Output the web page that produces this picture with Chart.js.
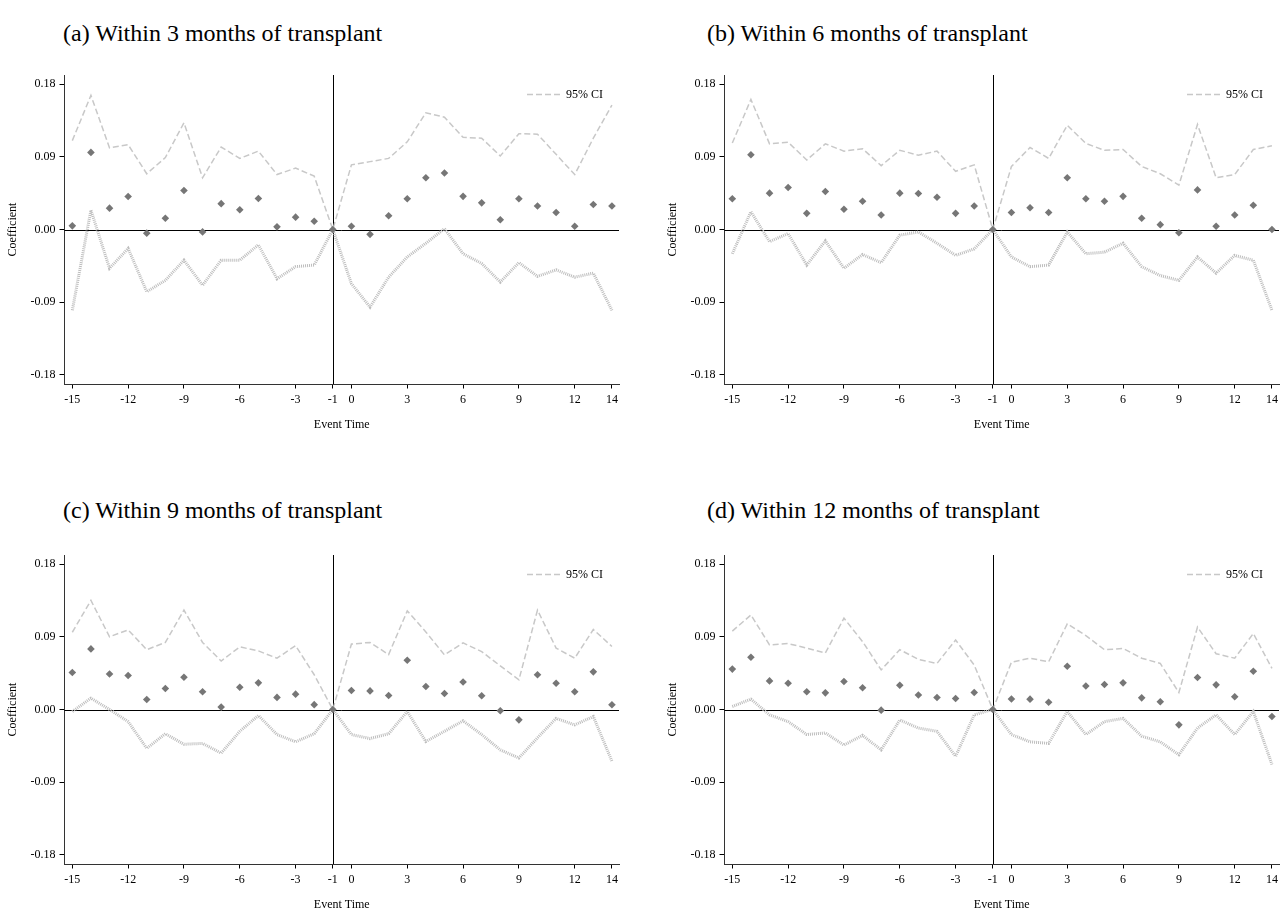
<!DOCTYPE html>
<html>
<head>
<meta charset="utf-8">
<script src="https://cdn.jsdelivr.net/npm/chart.js@4.4.0/dist/chart.umd.min.js"></script>
<style>
  html, body { margin: 0; padding: 0; background: #fff; overflow: hidden; }
  body { width: 1280px; height: 911px; position: relative; }
  canvas { position: absolute; }
  .title { position: absolute; font-family: "Liberation Serif", serif; font-size: 24px; line-height: 1; color: #000; white-space: nowrap; }
</style>
</head>
<body>
<div class="title" style="left:63px;top:21px">(a) Within 3 months of transplant</div>
<div class="title" style="left:707px;top:21px">(b) Within 6 months of transplant</div>
<div class="title" style="left:63px;top:498px">(c) Within 9 months of transplant</div>
<div class="title" style="left:707px;top:498px">(d) Within 12 months of transplant</div>

<canvas id="panelA" width="640" height="455" style="left:0;top:0"></canvas>
<canvas id="panelB" width="640" height="455" style="left:660px;top:0"></canvas>
<canvas id="panelC" width="640" height="455" style="left:0;top:480px"></canvas>
<canvas id="panelD" width="640" height="455" style="left:660px;top:480px"></canvas>

<script>
const eventTime = [-15, -14, -13, -12, -11, -10, -9, -8, -7, -6, -5, -4, -3, -2, -1,
                   0, 1, 2, 3, 4, 5, 6, 7, 8, 9, 10, 11, 12, 13, 14];
const xTicks = [-15, -12, -9, -6, -3, -1, 0, 3, 6, 9, 12, 14];
const yTicks = [-0.18, -0.09, 0, 0.09, 0.18];

// (a) within 3 months
const coefA  = [0.0045, 0.0954, 0.0264, 0.0409, -0.0045, 0.014, 0.0483, -0.003, 0.032, 0.0244, 0.0384, 0.0033, 0.0153, 0.0103, 0,
                0.004, -0.006, 0.017, 0.038, 0.064, 0.070, 0.041, 0.033, 0.012, 0.038, 0.029, 0.021, 0.004, 0.031, 0.029];
const upperA = [0.110, 0.166, 0.101, 0.105, 0.069, 0.089, 0.132, 0.064, 0.102, 0.088, 0.097, 0.068, 0.076, 0.066, 0,
                0.080, 0.084, 0.088, 0.1085, 0.1445, 0.139, 0.114, 0.113, 0.091, 0.1185, 0.118, 0.093, 0.068, 0.113, 0.154];
const lowerA = [-0.100, 0.024, -0.048, -0.0235, -0.077, -0.063, -0.038, -0.069, -0.038, -0.038, -0.019, -0.061, -0.046, -0.044, 0,
                -0.067, -0.096, -0.059, -0.034, -0.017, 0.001, -0.030, -0.042, -0.065, -0.041, -0.058, -0.050, -0.059, -0.054, -0.100];

// (b) within 6 months
const coefB  = [0.038, 0.0925, 0.045, 0.052, 0.020, 0.047, 0.025, 0.035, 0.018, 0.045, 0.0446, 0.040, 0.020, 0.029, 0,
                0.021, 0.027, 0.021, 0.064, 0.038, 0.035, 0.041, 0.014, 0.006, -0.004, 0.049, 0.004, 0.018, 0.030, 0.000];
const upperB = [0.107, 0.161, 0.106, 0.108, 0.086, 0.106, 0.097, 0.100, 0.079, 0.098, 0.092, 0.097, 0.072, 0.080, 0,
                0.078, 0.1015, 0.088, 0.129, 0.1065, 0.098, 0.099, 0.078, 0.069, 0.055, 0.130, 0.064, 0.068, 0.099, 0.1036];
const lowerB = [-0.030, 0.022, -0.015, -0.005, -0.044, -0.014, -0.048, -0.031, -0.041, -0.007, -0.003, -0.017, -0.032, -0.024, 0,
                -0.034, -0.046, -0.044, -0.003, -0.030, -0.028, -0.017, -0.046, -0.057, -0.063, -0.034, -0.054, -0.032, -0.038, -0.100];

// (c) within 9 months
const coefC  = [0.0457, 0.075, 0.044, 0.042, 0.0124, 0.026, 0.040, 0.022, 0.003, 0.0276, 0.033, 0.015, 0.019, 0.006, 0,
                0.0235, 0.023, 0.0173, 0.061, 0.0284, 0.0198, 0.034, 0.017, -0.0016, -0.0128, 0.043, 0.0325, 0.022, 0.0466, 0.0058];
const upperC = [0.0956, 0.135, 0.090, 0.0985, 0.074, 0.083, 0.123, 0.083, 0.060, 0.0775, 0.0725, 0.0635, 0.079, 0.043, 0,
                0.081, 0.083, 0.068, 0.122, 0.096, 0.0676, 0.0824, 0.0717, 0.054, 0.0367, 0.123, 0.076, 0.0635, 0.099, 0.078];
const lowerC = [-0.0025, 0.014, 0.000, -0.015, -0.048, -0.030, -0.043, -0.042, -0.054, -0.027, -0.0074, -0.031, -0.040, -0.030, 0,
                -0.031, -0.036, -0.030, -0.0025, -0.0396, -0.027, -0.014, -0.031, -0.050, -0.060, -0.035, -0.011, -0.019, -0.0087, -0.064];

// (d) within 12 months
const coefD  = [0.050, 0.0647, 0.0354, 0.0325, 0.022, 0.0206, 0.0346, 0.027, -0.0008, 0.030, 0.018, 0.0148, 0.0136, 0.021, 0,
                0.013, 0.0128, 0.009, 0.0536, 0.029, 0.031, 0.033, 0.0144, 0.0095, -0.019, 0.0396, 0.0305, 0.0157, 0.0474, -0.0087];
const upperD = [0.097, 0.117, 0.080, 0.0816, 0.076, 0.070, 0.113, 0.084, 0.049, 0.074, 0.062, 0.057, 0.086, 0.055, 0,
                0.0585, 0.0635, 0.059, 0.106, 0.0915, 0.074, 0.0755, 0.0635, 0.057, 0.021, 0.102, 0.069, 0.0635, 0.094, 0.051];
const lowerD = [0.0037, 0.0128, -0.0066, -0.015, -0.031, -0.029, -0.044, -0.032, -0.050, -0.013, -0.023, -0.027, -0.058, -0.0066, 0,
                -0.031, -0.040, -0.042, -0.0025, -0.031, -0.015, -0.011, -0.033, -0.040, -0.056, -0.023, -0.0066, -0.031, -0.0025, -0.068];

Chart.defaults.font.family = '"Liberation Serif", serif';
Chart.defaults.font.size = 12;
Chart.defaults.color = '#000';

// zero line and the event-time -1 reference line
const refLines = {
  id: 'refLines',
  beforeDatasetsDraw(chart) {
    const { ctx, chartArea: a, scales: { x, y } } = chart;
    const x0 = Math.round(x.getPixelForValue(-1)) + 0.5;
    const y0 = Math.round(y.getPixelForValue(0)) + 0.5;
    ctx.save();
    ctx.strokeStyle = '#000';
    ctx.lineWidth = 1;
    ctx.beginPath();
    ctx.moveTo(a.left, y0);
    ctx.lineTo(a.right, y0);
    ctx.moveTo(x0, a.top);
    ctx.lineTo(x0, a.bottom);
    ctx.stroke();
    ctx.restore();
  }
};

// small legend inside the top right corner, only for the CI line
const ciLegend = {
  id: 'ciLegend',
  afterDatasetsDraw(chart) {
    const { ctx, chartArea: a } = chart;
    const ds = chart.data.datasets[1];
    const ly = a.top + 19.5;
    ctx.save();
    ctx.strokeStyle = ds.borderColor;
    ctx.lineWidth = ds.borderWidth;
    ctx.setLineDash(ds.borderDash);
    ctx.beginPath();
    ctx.moveTo(a.right - 92, ly);
    ctx.lineTo(a.right - 59, ly);
    ctx.stroke();
    ctx.setLineDash([]);
    ctx.fillStyle = '#000';
    ctx.font = '12px "Liberation Serif", serif';
    ctx.textBaseline = 'middle';
    ctx.textAlign = 'left';
    ctx.fillText(ds.label, a.right - 53, ly);
    ctx.restore();
  }
};

const toPoints = vals => eventTime.map((t, i) => ({ x: t, y: vals[i] }));

function makeChart(id, coef, upper, lower) {
  new Chart(document.getElementById(id), {
    type: 'line',
    data: {
      datasets: [
        {
          label: 'Coefficient',
          data: toPoints(coef),
          showLine: false,
          pointStyle: 'rectRot',
          pointRadius: 3.8,
          pointBackgroundColor: '#767676',
          pointBorderWidth: 0
        },
        {
          label: '95% CI',
          data: toPoints(upper),
          borderColor: '#c8c8c8',
          borderWidth: 1.5,
          borderDash: [6, 3],
          pointRadius: 0,
          tension: 0
        },
        {
          label: 'lower',
          data: toPoints(lower),
          borderColor: '#bdbdbd',
          borderWidth: 3,
          borderDash: [1, 1],
          pointRadius: 0,
          tension: 0
        }
      ]
    },
    options: {
      responsive: false,
      animation: false,
      devicePixelRatio: 1,
      layout: { padding: { top: 75, right: 21, bottom: 21, left: 0 } },
      plugins: {
        tooltip: { enabled: false },
        legend: { display: false }
      },
      scales: {
        x: {
          type: 'linear',
          min: -15.42,
          max: 14.38,
          afterBuildTicks: s => { s.ticks = xTicks.map(v => ({ value: v })); },
          afterFit: s => { s.height = 50; },
          ticks: { autoSkip: false, maxRotation: 0, padding: 4, callback: v => String(v) },
          grid: { drawOnChartArea: false, tickLength: 4.5, color: '#000' },
          border: { color: '#333', width: 1 },
          title: { display: true, text: 'Event Time', padding: { top: 0, bottom: 1.8 }, font: { size: 12 } }
        },
        y: {
          min: -0.1912,
          max: 0.1912,
          afterBuildTicks: s => { s.ticks = yTicks.map(v => ({ value: v })); },
          afterFit: s => { s.width = 64.5; },
          ticks: { padding: 4, callback: v => v.toFixed(2) },
          grid: { drawOnChartArea: false, tickLength: 5, color: '#000' },
          border: { color: '#333', width: 1 },
          title: { display: true, text: 'Coefficient', padding: { top: 5.8, bottom: 0 }, font: { size: 12 } }
        }
      }
    },
    plugins: [refLines, ciLegend]
  });
}

makeChart('panelA', coefA, upperA, lowerA);
makeChart('panelB', coefB, upperB, lowerB);
makeChart('panelC', coefC, upperC, lowerC);
makeChart('panelD', coefD, upperD, lowerD);
</script>
</body>
</html>
